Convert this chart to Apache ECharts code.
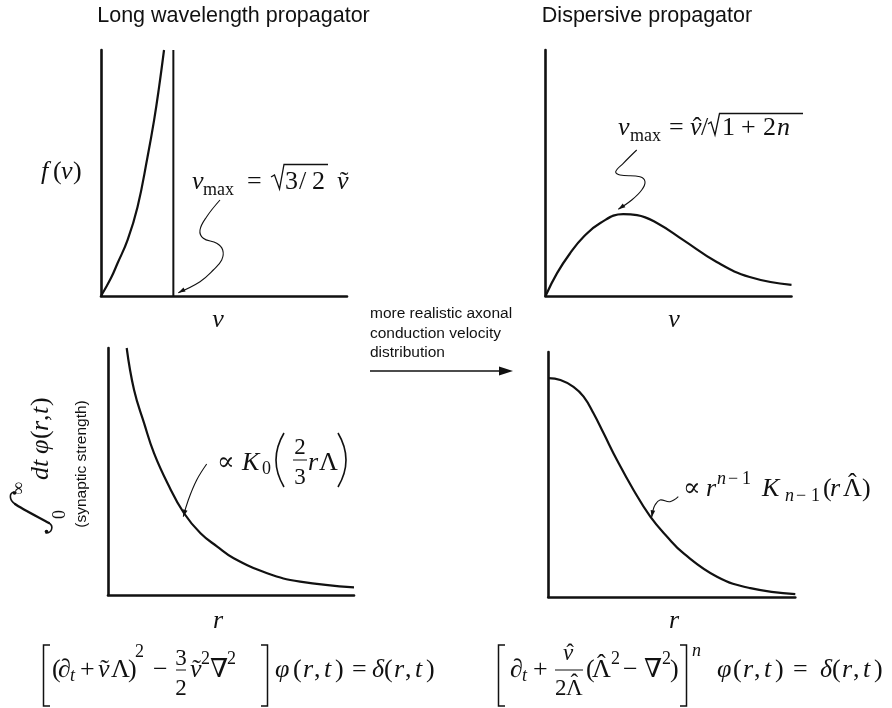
<!DOCTYPE html>
<html><head><meta charset="utf-8">
<script src="https://cdn.jsdelivr.net/npm/echarts@6/dist/echarts.min.js"></script>
<style>html,body{margin:0;padding:0;background:#fff}#c{width:892px;height:708px}</style>
</head><body><div id="c"></div>
<script>
// ---------- data ----------
// Panel A: long wavelength velocity distribution f(v), v in units of v_max
const lwVel  = [0, 0.138, 0.23, 0.368, 0.505, 0.643, 0.734, 0.803, 0.871];
const lwDist = [0, 0.73, 1.34, 2.28, 3.62, 5.65, 7.15, 8.50, 10.0];
const vMax   = [1.0];
// Panel B: dispersive velocity distribution
const dpVel  = [0, 0.47, 1.01, 1.54, 2.23, 3.16, 3.72, 4.53, 5.59, 6.96, 8.30, 10];
const dpDist = [0, 0.93, 1.75, 2.40, 2.97, 3.33, 3.29, 2.97, 2.28, 1.38, 0.77, 0.45];
// Panel C: long wavelength synaptic strength vs r
const lwR    = [0.76, 1.06, 1.47, 1.87, 2.42, 3.09, 3.76, 4.44, 5.11, 6.47, 7.81, 10];
const lwS    = [10, 8.30, 6.95, 5.74, 4.52, 3.31, 2.50, 1.96, 1.49, 0.88, 0.54, 0.31];
// Panel D: dispersive synaptic strength vs r
const dpR    = [0, 0.49, 1.02, 1.43, 1.83, 2.24, 2.78, 3.45, 4.13, 4.81, 5.48, 6.83, 8.18, 10];
const dpS    = [8.93, 8.86, 8.58, 8.18, 7.50, 6.68, 5.59, 4.37, 3.28, 2.46, 1.78, 0.83, 0.36, 0.12];
// axis ranges
const xMaxes = [3.4, 10, 10, 10];
const yMaxes = [10, 10, 10, 10];

// ---------- helpers ----------
const SERIF = '"Liberation Serif","DejaVu Serif",serif';
const SANS = '"Liberation Sans",Arial,sans-serif';
const INK = '#111';
function pairs(xs, ys) { return xs.map((x, i) => [x, ys[i]]); }
function T(t, x, b, s, o) {
  o = o || {};
  const k = o.f === SANS ? 0.26 : 0.16;
  return { type: 'text', x: x, y: b - s * k + (o.dy || 0), silent: true,
    style: { text: t, fontSize: s, fontFamily: o.f || SERIF, fontStyle: o.it ? 'italic' : 'normal',
      fill: INK, align: o.al || 'left', verticalAlign: 'middle' } };
}
function L(pts, w, smooth) {
  return { type: 'polyline', silent: true, shape: { points: pts, smooth: smooth || 0 },
    style: { stroke: INK, lineWidth: w || 1.2, fill: null } };
}
function head(p, q, len, hw) { // arrow head at q, coming from p
  const dx = q[0] - p[0], dy = q[1] - p[1], d = Math.hypot(dx, dy), ux = dx / d, uy = dy / d;
  const bx = q[0] - ux * len, by = q[1] - uy * len;
  return { type: 'polygon', silent: true, shape: { points: [[q[0], q[1]], [bx - uy * hw, by + ux * hw], [bx + uy * hw, by - ux * hw]] },
    style: { fill: INK } };
}
function arrow(pts, smooth) {
  const n = pts.length;
  return [L(pts, 1.1, smooth), head(pts[n - 2], pts[n - 1], 7, 2.3)];
}
function paren(x1, x2, y1, y2) {
  return { type: 'bezierCurve', silent: true, shape: { x1: x1, y1: y1, cpx1: x2, cpy1: (y1 + y2) / 2, x2: x1, y2: y2 },
    style: { stroke: INK, lineWidth: 1.6, fill: null } };
}
function bez(a, c1, c2, b, w) {
  return { type: 'bezierCurve', silent: true,
    shape: { x1: a[0], y1: a[1], cpx1: c1[0], cpy1: c1[1], cpx2: c2[0], cpy2: c2[1], x2: b[0], y2: b[1] },
    style: { stroke: INK, lineWidth: w, fill: null, lineCap: 'round' } };
}

const els = [];
// titles
els.push(T('Long wavelength propagator', 233.5, 21.7, 21.5, { f: SANS, al: 'center' }));
els.push(T('Dispersive propagator', 647, 21.7, 21.5, { f: SANS, al: 'center' }));
// middle text + arrow
els.push(T('more realistic axonal', 370, 318, 15.5, { f: SANS }));
els.push(T('conduction velocity', 370, 338, 15.5, { f: SANS }));
els.push(T('distribution', 370, 357, 15.5, { f: SANS }));
els.push(L([[370, 371], [501, 371]], 1.4));
els.push({ type: 'polygon', silent: true, shape: { points: [[499, 366.5], [513, 371], [499, 375.5]] }, style: { fill: INK } });

// axis labels
els.push(T('f', 41, 176, 26, { it: 1 }), T('(', 53, 176, 26), T('v', 61, 176, 26, { it: 1 }), T(')', 73, 176, 26));
els.push(T('v', 218, 324, 26, { it: 1, al: 'center' }));
els.push(T('v', 674, 324, 26, { it: 1, al: 'center' }));
els.push(T('r', 218, 625, 26, { it: 1, al: 'center' }));
els.push(T('r', 674, 625, 26, { it: 1, al: 'center' }));
els.push({ type: 'text', x: 82, y: 464, rotation: Math.PI / 2, silent: true,
  style: { text: '(synaptic strength)', fontSize: 15.5, fontFamily: SANS, fill: INK, align: 'center', verticalAlign: 'middle' } });
// rotated  ∫_0^∞ dt φ(r,t)
els.push({ type: 'group', x: 0, y: 535, rotation: Math.PI / 2, children: [
  bez([2, 46], [2, 52], [9, 54], [12, 49], 1.6),
  bez([12, 49], [17, 40], [26, 22], [31, 15], 2.2),
  bez([31, 15], [35, 9], [42, 9], [43, 14], 1.6),
  { type: 'circle', silent: true, shape: { cx: 3.5, cy: 46.5, r: 1.8 }, style: { fill: INK } },
  { type: 'circle', silent: true, shape: { cx: 42, cy: 14.5, r: 1.8 }, style: { fill: INK } },
  T('∞', 40, 22, 18), T('0', 16, 63, 18),
  T('d', 55, 45, 26, { it: 1 }), T('t', 68, 45, 26, { it: 1 }), T('φ', 81, 45, 26, { it: 1 }),
  T('(', 96, 45, 26), T('r', 104, 45, 26, { it: 1 }), T(',', 114, 45, 26), T('t', 121, 45, 26, { it: 1 }), T(')', 129, 45, 26)
] });

// panel A formula: v_max = sqrt(3/2) v~
els.push(T('v', 192, 186, 26, { it: 1 }), T('max', 203, 193, 18), T('=', 247, 186, 26),
  L([[271, 177], [274.5, 175], [279.5, 189], [284, 164.5], [328, 164.5]], 1.3),
  T('3', 285, 186, 26), T('/', 299, 186, 26), T('2', 312, 186, 26),
  T('v', 337, 186, 26, { it: 1 }), T('˜', 344, 186, 26, { al: 'center' }));
// panel B formula: v_max = v^/sqrt(1+2n)
els.push(T('v', 618, 132, 26, { it: 1 }), T('max', 630, 139, 18), T('=', 669, 132, 26),
  T('v', 690, 132, 26, { it: 1 }), T('ˆ', 697, 132, 26, { al: 'center' }), T('/', 701, 132, 26),
  L([[708, 124], [711, 122], [715, 135], [719.5, 113.5], [803, 113.5]], 1.3),
  T('1', 722, 132, 26), T('+', 741, 132, 26), T('2', 763, 132, 26), T('n', 777, 132, 26, { it: 1 }));
// panel C formula: ∝ K0 (2/3 r Λ)
els.push(T('∝', 217, 467, 26), T('K', 242, 467, 26, { it: 1 }), T('0', 262, 472, 18),
  paren(284, 268, 433, 487),
  T('2', 300, 452, 23, { al: 'center' }), L([[293, 460], [307, 460]], 1), T('3', 300, 482, 23, { al: 'center' }),
  T('r', 308, 467, 26, { it: 1 }), T('Λ', 319, 467, 26),
  paren(338, 354, 433, 487));
// panel D formula: ∝ r^{n-1} K_{n-1}(r Λ^)
els.push(T('∝', 683, 493, 26), T('r', 706, 493, 26, { it: 1 }),
  T('n', 717, 482, 18, { it: 1 }), T('−', 728, 482, 18), T('1', 742, 482, 18),
  T('K', 762, 493, 26, { it: 1 }),
  T('n', 785, 499, 18, { it: 1 }), T('−', 796, 499, 18), T('1', 811, 499, 18),
  T('(', 823, 493, 26), T('r', 830, 493, 26, { it: 1 }), T('Λ', 843, 493, 26), T('ˆ', 852.4, 493, 26, { al: 'center', dy: -5 }), T(')', 862, 493, 26));

// bottom-left equation
els.push(L([[50, 645], [43.5, 645], [43.5, 706], [50, 706]], 1.5),
  T('(', 52, 674, 26), T('∂', 58, 674, 26), T('t', 70, 679, 18, { it: 1 }), T('+', 80, 674, 26),
  T('v', 98, 674, 26, { it: 1 }), T('˜', 104.5, 674, 26, { al: 'center' }), T('Λ', 111, 674, 26), T(')', 128, 674, 26),
  T('2', 135, 655, 18), T('−', 153, 674, 26),
  T('3', 181, 663, 23, { al: 'center' }), L([[176, 670], [186, 670]], 1), T('2', 181, 693, 23, { al: 'center' }),
  T('v', 190, 674, 26, { it: 1 }), T('˜', 196.5, 674, 26, { al: 'center' }), T('2', 201, 662, 18),
  T('∇', 210, 674, 26), T('2', 227, 662, 18),
  L([[261, 645], [267.5, 645], [267.5, 706], [261, 706]], 1.5),
  T('φ', 275, 674, 26, { it: 1 }), T('(', 293, 674, 26), T('r', 303, 674, 26, { it: 1 }), T(',', 314, 674, 26),
  T('t', 324, 674, 26, { it: 1 }), T(')', 335, 674, 26), T('=', 352, 674, 26),
  T('δ', 372, 674, 26, { it: 1 }), T('(', 384, 674, 26), T('r', 394, 674, 26, { it: 1 }), T(',', 405, 674, 26),
  T('t', 415, 674, 26, { it: 1 }), T(')', 426, 674, 26));
// bottom-right equation
els.push(L([[505, 645], [498.5, 645], [498.5, 706], [505, 706]], 1.5),
  T('∂', 510, 674, 26), T('t', 522, 679, 18, { it: 1 }), T('+', 533, 674, 26),
  T('v', 568, 658, 23, { it: 1, al: 'center' }), T('ˆ', 570, 658, 23, { al: 'center' }),
  L([[555, 670], [583, 670]], 1),
  T('2', 555, 693, 23), T('Λ', 566, 693, 23), T('ˆ', 574.3, 693, 23, { al: 'center', dy: -5 }),
  T('(', 586, 674, 26), T('Λ', 592, 674, 26), T('ˆ', 601.4, 674, 26, { al: 'center', dy: -5 }), T('2', 611, 662, 18),
  T('−', 623, 674, 26), T('∇', 644, 674, 26), T('2', 662, 662, 18), T(')', 670, 674, 26),
  L([[680, 645], [686.5, 645], [686.5, 706], [680, 706]], 1.5),
  T('n', 692, 654, 18, { it: 1 }),
  T('φ', 717, 674, 26, { it: 1 }), T('(', 733, 674, 26), T('r', 743, 674, 26, { it: 1 }), T(',', 754, 674, 26),
  T('t', 764, 674, 26, { it: 1 }), T(')', 775, 674, 26), T('=', 793, 674, 26),
  T('δ', 820, 674, 26, { it: 1 }), T('(', 832, 674, 26), T('r', 842, 674, 26, { it: 1 }), T(',', 853, 674, 26),
  T('t', 863, 674, 26, { it: 1 }), T(')', 874, 674, 26));

// annotation squiggles with arrow heads
els.push(...arrow([[220, 200], [206.7, 216.7], [200, 230], [203.3, 238.3], [216.7, 243.3], [222.7, 250], [221.7, 260], [213.3, 270], [200, 281.7], [178.3, 292.7]], 0.4));
els.push(...arrow([[636.7, 150], [623.3, 163.3], [615.7, 171.7], [620, 175], [640, 176.7], [645, 181.7], [641.7, 190], [631.7, 200], [618.3, 209.3]], 0.4));
els.push(...arrow([[206.7, 464], [196.7, 480], [188.3, 500], [183.3, 516.7]], 0.4));
els.push(...arrow([[678.3, 496.7], [670, 501.7], [660, 500], [655, 505], [652.7, 511.7], [651.7, 517.3]], 0.4));

// ---------- chart ----------
const grids = [
  { left: 101, top: 50, width: 246, height: 246 },
  { left: 545.5, top: 50, width: 246, height: 246 },
  { left: 108, top: 348, width: 246, height: 247 },
  { left: 548.3, top: 352, width: 247, height: 245 }
];
const axisBase = { type: 'value', min: 0, axisLine: { show: true, onZero: false, lineStyle: { color: INK, width: 2.6 } },
  axisTick: { show: false }, axisLabel: { show: false }, splitLine: { show: false } };
const xAxes = grids.map((g, i) => Object.assign({}, axisBase, { gridIndex: i, max: xMaxes[i] }));
const yAxes = grids.map((g, i) => Object.assign({}, axisBase, { gridIndex: i, max: yMaxes[i] }));
function curve(i, data, w) {
  return { type: 'line', xAxisIndex: i, yAxisIndex: i, data: data, smooth: 0.45, symbol: 'none', silent: true,
    clip: true, lineStyle: { color: INK, width: w || 2.2 } };
}
const chart = echarts.init(document.getElementById('c'), null, { renderer: 'canvas' });
chart.setOption({
  animation: false,
  backgroundColor: '#fff',
  grid: grids,
  xAxis: xAxes,
  yAxis: yAxes,
  series: [
    curve(0, pairs(lwVel, lwDist)),
    Object.assign(curve(0, [[vMax[0], 0], [vMax[0], yMaxes[0]]], 2), { smooth: false }),
    curve(1, pairs(dpVel, dpDist)),
    curve(2, pairs(lwR, lwS)),
    curve(3, pairs(dpR, dpS))
  ],
  graphic: { elements: els }
});
</script></body></html>
